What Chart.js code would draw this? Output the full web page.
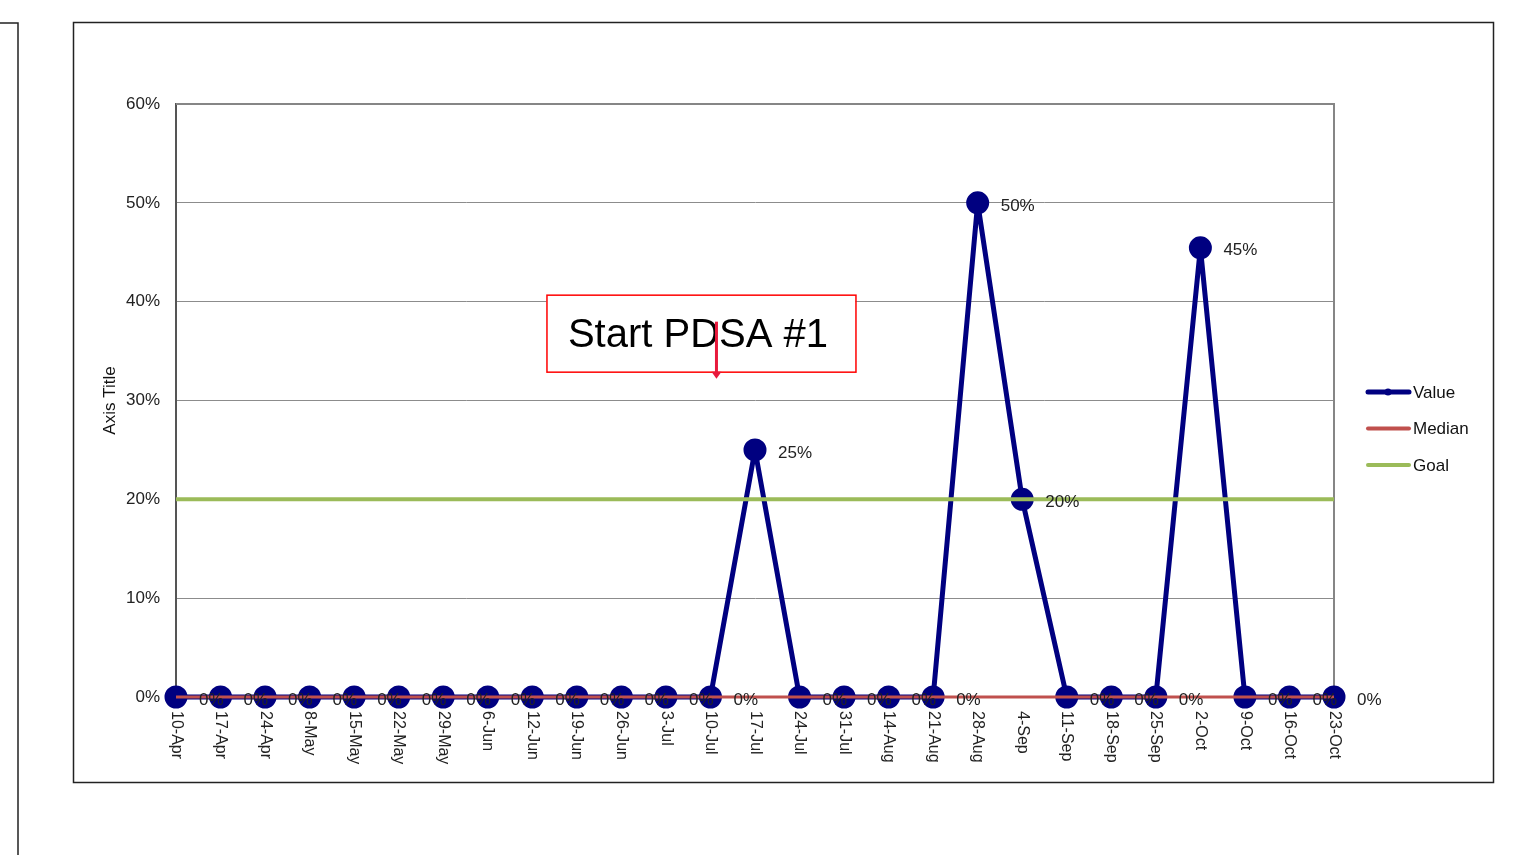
<!DOCTYPE html>
<html>
<head>
<meta charset="utf-8">
<title>Start PDSA run chart</title>
<script src="https://cdn.jsdelivr.net/npm/chart.js@4.4.0/dist/chart.umd.min.js"></script>
<style>
  html, body { margin: 0; padding: 0; background: #fff; }
  #wrap { position: relative; width: 1539px; height: 855px; }
</style>
</head>
<body>
<div id="wrap"><canvas id="runChart" width="1539" height="855"></canvas></div>
<script>
// week labels (x axis)
const weeks = ['10-Apr', '17-Apr', '24-Apr', '8-May', '15-May', '22-May', '29-May', '6-Jun',
  '12-Jun', '19-Jun', '26-Jun', '3-Jul', '10-Jul', '17-Jul', '24-Jul', '31-Jul', '14-Aug',
  '21-Aug', '28-Aug', '4-Sep', '11-Sep', '18-Sep', '25-Sep', '2-Oct', '9-Oct', '16-Oct', '23-Oct'];

// series values in percent
const valuePct = [0, 0, 0, 0, 0, 0, 0, 0, 0, 0, 0, 0, 0, 25, 0, 0, 0, 0, 50, 20, 0, 0, 0, 45.45, 0, 0, 0];
const medianPct = [0, 0, 0, 0, 0, 0, 0, 0, 0, 0, 0, 0, 0, 0, 0, 0, 0, 0, 0, 0, 0, 0, 0, 0, 0, 0, 0];
const goalPct = [20, 20, 20, 20, 20, 20, 20, 20, 20, 20, 20, 20, 20, 20, 20, 20, 20, 20, 20, 20, 20, 20, 20, 20, 20, 20, 20];

// y axis
const yMin = 0;
const yMax = 60;
const yStep = 10;

// annotation
const noteText = 'Start PDSA #1';
const noteWeek = '10-Jul';

const NAVY = '#000080';
const RED = '#C0504D';
const GREEN = '#9BBB59';
const FONT = '"Liberation Sans", Arial, sans-serif';

// Frames, plot border, rotated week labels, data labels, legend, note box
const decorPlugin = {
    id: 'decor',
    beforeDraw(chart) {
        const ctx = chart.ctx;
        ctx.save();
        ctx.strokeStyle = '#222';
        ctx.lineWidth = 1.5;
        ctx.strokeRect(73.5, 22.5, 1420, 760);
        ctx.beginPath();
        ctx.moveTo(0, 23);
        ctx.lineTo(18, 23);
        ctx.lineTo(18, 855);
        ctx.stroke();
        ctx.restore();
    },
    beforeDatasetsDraw(chart) {
        const ctx = chart.ctx;
        const a = chart.chartArea;
        ctx.save();
        ctx.strokeStyle = '#868686';
        ctx.lineWidth = 2;
        ctx.beginPath();
        ctx.moveTo(a.left, a.top);
        ctx.lineTo(a.right, a.top);
        ctx.lineTo(a.right, a.bottom);
        ctx.stroke();
        ctx.restore();
    },
    afterDraw(chart) {
        const ctx = chart.ctx;
        const a = chart.chartArea;
        const xs = chart.scales.x;
        const ys = chart.scales.y;

        ctx.save();
        // week labels, rotated clockwise
        ctx.fillStyle = '#222';
        ctx.font = '16px ' + FONT;
        ctx.textAlign = 'left';
        ctx.textBaseline = 'middle';
        weeks.forEach((w, i) => {
            ctx.save();
            ctx.translate(xs.getPixelForValue(i), a.bottom + 14);
            ctx.rotate(Math.PI / 2);
            ctx.fillText(w, 0, 0);
            ctx.restore();
        });

        // data labels on Value points
        ctx.font = '17px ' + FONT;
        valuePct.forEach((v, i) => {
            const x = xs.getPixelForValue(i);
            const y = ys.getPixelForValue(v);
            ctx.fillText(Math.round(v) + '%', x + 23, y + 3);
        });

        // legend
        const lx = a.right + 32;
        const rows = [
            { label: 'Value', color: NAVY, width: 5, dot: true },
            { label: 'Median', color: RED, width: 4 },
            { label: 'Goal', color: GREEN, width: 4 }
        ];
        ctx.lineCap = 'round';
        rows.forEach((r, k) => {
            const y = a.top + 288 + k * 36.5;
            ctx.strokeStyle = r.color;
            ctx.lineWidth = r.width;
            ctx.beginPath();
            ctx.moveTo(lx + 2, y);
            ctx.lineTo(lx + 43, y);
            ctx.stroke();
            if (r.dot) {
                ctx.fillStyle = r.color;
                ctx.beginPath();
                ctx.arc(lx + 22, y, 3.5, 0, Math.PI * 2);
                ctx.fill();
            }
            ctx.fillStyle = '#111';
            ctx.font = '17px ' + FONT;
            ctx.textAlign = 'left';
            ctx.fillText(r.label, lx + 47, y + 1);
        });

        // note box with arrow
        const ax = xs.getPixelForValue(weeks.indexOf(noteWeek)) + 6;
        const boxTop = ys.getPixelForValue(40) - 7;
        const boxLeft = ax - 170;
        const boxW = 309;
        const boxH = 77;
        ctx.fillStyle = '#fff';
        ctx.fillRect(boxLeft, boxTop, boxW, boxH);
        ctx.strokeStyle = '#ff0000';
        ctx.lineWidth = 1.5;
        ctx.strokeRect(boxLeft + 0.5, boxTop + 0.5, boxW, boxH);
        ctx.fillStyle = '#000';
        ctx.font = '40px ' + FONT;
        ctx.textAlign = 'center';
        ctx.fillText(noteText, boxLeft + boxW / 2 - 3, boxTop + 41);

        ctx.strokeStyle = '#e8193c';
        ctx.lineWidth = 3;
        ctx.lineCap = 'butt';
        ctx.beginPath();
        ctx.moveTo(ax, boxTop + 27);
        ctx.lineTo(ax, boxTop + 79);
        ctx.stroke();
        ctx.fillStyle = '#e8193c';
        ctx.beginPath();
        ctx.moveTo(ax - 5, boxTop + 77);
        ctx.lineTo(ax + 5, boxTop + 77);
        ctx.lineTo(ax, boxTop + 84);
        ctx.closePath();
        ctx.fill();
        ctx.restore();
    }
};

const ctx = document.getElementById('runChart').getContext('2d');
new Chart(ctx, {
    type: 'line',
    data: {
        labels: weeks,
        datasets: [
            {
                label: 'Value',
                data: valuePct,
                borderColor: NAVY,
                backgroundColor: NAVY,
                borderWidth: 5,
                borderJoinStyle: 'round',
                pointRadius: 9,
                pointBackgroundColor: NAVY,
                pointBorderColor: NAVY,
                tension: 0,
                clip: false,
                order: 3
            },
            {
                label: 'Median',
                data: medianPct,
                borderColor: RED,
                borderWidth: 3,
                pointRadius: 0,
                tension: 0,
                clip: false,
                order: 2
            },
            {
                label: 'Goal',
                data: goalPct,
                borderColor: GREEN,
                borderWidth: 4,
                pointRadius: 0,
                tension: 0,
                order: 1
            }
        ]
    },
    options: {
        responsive: false,
        animation: false,
        layout: {
            padding: { left: 90, right: 205, top: 104, bottom: 0 }
        },
        plugins: {
            legend: { display: false },
            tooltip: { enabled: false }
        },
        scales: {
            x: {
                offset: false,
                grid: { display: false },
                border: { display: false },
                ticks: { display: false },
                afterFit(scale) { scale.height = 158; }
            },
            y: {
                min: yMin,
                max: yMax,
                ticks: {
                    stepSize: yStep,
                    color: '#222',
                    padding: 16,
                    font: { size: 17, family: FONT },
                    callback: v => v + '%'
                },
                grid: { color: '#8c8c8c', lineWidth: 1, drawTicks: false },
                border: { color: '#555', width: 2 },
                title: {
                    display: true,
                    text: 'Axis Title',
                    color: '#111',
                    font: { size: 17, family: FONT },
                    padding: { top: 10, bottom: 0 }
                },
                afterFit(scale) { scale.width = 86; }
            }
        }
    },
    plugins: [decorPlugin]
});
</script>
</body>
</html>
